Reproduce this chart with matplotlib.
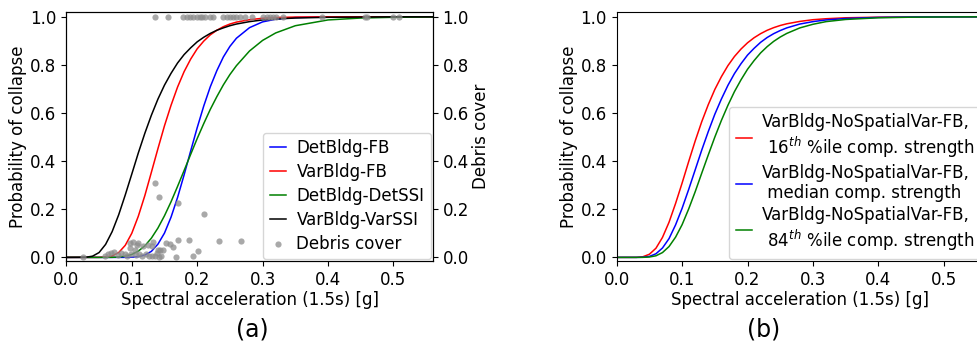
import matplotlib
matplotlib.use('Agg')
from matplotlib import pyplot as plt

# (a) fragility curves
sa_a = [0.0, 0.03, 0.04, 0.05, 0.06, 0.07, 0.08, 0.09, 0.10, 0.11, 0.12, 0.13, 0.14, 0.15, 0.16,
        0.17, 0.18, 0.19, 0.20, 0.21, 0.22, 0.23, 0.24, 0.25, 0.26, 0.28, 0.30, 0.32, 0.35,
        0.40, 0.45, 0.50, 0.56]
det_fb = [0, 0, 0, 0, 0, 0, 0, 0.0001, 0.0007, 0.003, 0.0098, 0.025, 0.055, 0.101, 0.167, 0.249,
          0.343, 0.442, 0.539, 0.629, 0.709, 0.776, 0.833, 0.877, 0.911, 0.955, 0.979, 0.990,
          0.997, 1.0, 1.0, 1.0, 1.0]
var_fb = [0, 0, 0, 0.0001, 0.0012, 0.006, 0.020, 0.050, 0.100, 0.171, 0.257, 0.354, 0.452, 0.547,
          0.632, 0.708, 0.772, 0.824, 0.867, 0.899, 0.925, 0.944, 0.959, 0.970, 0.978, 0.988,
          0.994, 0.997, 0.999, 1.0, 1.0, 1.0, 1.0]
det_ssi = [0, 0, 0, 0, 0, 0.0003, 0.0015, 0.0048, 0.012, 0.026, 0.048, 0.080, 0.122, 0.173, 0.231,
           0.295, 0.361, 0.428, 0.494, 0.556, 0.615, 0.668, 0.717, 0.760, 0.797, 0.858, 0.902,
           0.933, 0.963, 0.987, 0.995, 0.998, 0.9995]
var_ssi = [0, 0.0006, 0.005, 0.020, 0.054, 0.107, 0.177, 0.259, 0.346, 0.434, 0.516, 0.591, 0.658,
           0.716, 0.765, 0.808, 0.843, 0.871, 0.896, 0.915, 0.931, 0.944, 0.954, 0.963, 0.970,
           0.980, 0.987, 0.991, 0.995, 0.998, 0.999, 1.0, 1.0]

# debris cover observations
debris_sa = [0.025, 0.059, 0.063, 0.069, 0.073, 0.079, 0.084, 0.089, 0.092, 0.097, 0.097, 0.099,
             0.102, 0.105, 0.106, 0.1075, 0.110, 0.111, 0.116, 0.1176, 0.121, 0.125, 0.126,
             0.131, 0.131, 0.133, 0.135, 0.136, 0.138, 0.1405, 0.141, 0.142, 0.143, 0.144,
             0.148, 0.152, 0.158, 0.163, 0.168, 0.170, 0.171, 0.188, 0.193, 0.2015, 0.211,
             0.234, 0.267,
             0.135, 0.156, 0.178, 0.184, 0.189, 0.194, 0.199, 0.204, 0.208, 0.212, 0.219,
             0.224, 0.240, 0.245, 0.250, 0.255, 0.260, 0.265, 0.273, 0.284, 0.301, 0.306,
             0.311, 0.316, 0.321, 0.331, 0.391, 0.456, 0.460, 0.499, 0.509]
debris_cover = [0.0, 0.007, 0.015, 0.018, 0.021, 0.011, 0.018, 0.015, 0.007, 0.060, 0.039, 0.015,
                0.066, 0.029, 0.011, 0.053, 0.060, 0.015, 0.007, 0.046, 0.015, 0.053, 0.007,
                0.046, 0.004, 0.066, 0.308, 0.007, 0.018, 0.029, 0.002, 0.249, 0.031, 0.007,
                0.029, 0.060, 0.055, 0.043, 0.002, 0.228, 0.073, 0.073, 0.007, 0.025, 0.182,
                0.070, 0.068,
                1, 1, 1, 1, 1, 1, 1, 1, 1, 1, 1, 1, 1, 1, 1, 1, 1, 1, 1, 1, 1, 1, 1, 1, 1,
                1, 1, 1, 1, 1, 1]

# (b) compressive strength sensitivity
sa_b = [0.0, 0.03, 0.04, 0.05, 0.06, 0.07, 0.08, 0.09, 0.10, 0.11, 0.12, 0.13, 0.14, 0.15,
        0.16, 0.17, 0.18, 0.19, 0.20, 0.21, 0.22, 0.23, 0.24, 0.25, 0.26, 0.28, 0.30, 0.32,
        0.35, 0.40, 0.45, 0.50, 0.56]
p16 = [0, 0.0002, 0.0026, 0.013, 0.038, 0.083, 0.146, 0.224, 0.309, 0.398, 0.484, 0.564, 0.635,
       0.698, 0.751, 0.797, 0.835, 0.866, 0.892, 0.913, 0.930, 0.944, 0.955, 0.964, 0.971,
       0.981, 0.988, 0.992, 0.996, 0.9985, 0.9994, 1.0, 1.0]
p50 = [0, 0, 0.0006, 0.004, 0.015, 0.039, 0.078, 0.135, 0.204, 0.282, 0.364, 0.446, 0.523,
       0.595, 0.658, 0.715, 0.764, 0.805, 0.841, 0.869, 0.894, 0.914, 0.930, 0.943, 0.954,
       0.970, 0.980, 0.987, 0.993, 0.9976, 0.9991, 0.9997, 1.0]
p84 = [0, 0, 0.0002, 0.0015, 0.0066, 0.020, 0.045, 0.084, 0.136, 0.201, 0.273, 0.350, 0.426,
       0.500, 0.569, 0.632, 0.689, 0.738, 0.782, 0.818, 0.850, 0.876, 0.898, 0.916, 0.931,
       0.954, 0.969, 0.980, 0.989, 0.996, 0.9985, 0.9994, 1.0]

fs = 12
plt.rcParams['font.size'] = fs

fig = plt.figure(figsize=(9.77, 3.45), dpi=100)

# ---- (a)
ax = fig.add_axes([0.0679, 0.2435, 0.375, 0.7217])
l1, = ax.plot(sa_a, det_fb, color='b', lw=1.1, label='DetBldg-FB')
l2, = ax.plot(sa_a, var_fb, color='r', lw=1.1, label='VarBldg-FB')
l3, = ax.plot(sa_a, det_ssi, color='g', lw=1.1, label='DetBldg-DetSSI')
l4, = ax.plot(sa_a, var_ssi, color='k', lw=1.1, label='VarBldg-VarSSI')
ax.set_xlim(0, 0.56)
ax.set_ylim(-0.015, 1.02)
ax.set_xlabel('Spectral acceleration (1.5s) [g]', labelpad=2)
ax.set_ylabel('Probability of collapse', labelpad=2)

axr = ax.twinx()
sc = axr.scatter(debris_sa, debris_cover, s=20, color='#8c8c8c', alpha=0.75,
                 linewidths=0, label='Debris cover')
axr.set_ylim(-0.015, 1.02)
axr.set_ylabel('Debris cover', labelpad=2)
axr.legend(handles=[l1, l2, l3, l4, sc], loc='lower right', borderaxespad=0.1,
           handlelength=1.0, handletextpad=0.6, labelspacing=0.35, fontsize=fs)
fig.text(0.258, 0.046, '(a)', ha='center', va='center', fontsize=17)

# ---- (b)
bx = fig.add_axes([0.6312, 0.2435, 0.375, 0.7217])
bx.plot(sa_b, p16, color='r', lw=1.1,
        label='VarBldg-NoSpatialVar-FB,\n 16$^{th}$ %ile comp. strength')
bx.plot(sa_b, p50, color='b', lw=1.1,
        label='VarBldg-NoSpatialVar-FB,\n median comp. strength')
bx.plot(sa_b, p84, color='g', lw=1.1,
        label='VarBldg-NoSpatialVar-FB,\n 84$^{th}$ %ile comp. strength')
bx.set_xlim(0, 0.56)
bx.set_ylim(-0.015, 1.02)
bx.set_xlabel('Spectral acceleration (1.5s) [g]', labelpad=2)
bx.set_ylabel('Probability of collapse', labelpad=2)
bx.legend(loc='lower right', borderaxespad=0.1, handlelength=1.0, handletextpad=0.6,
          labelspacing=0.2, fontsize=fs)
fig.text(0.7815, 0.046, '(b)', ha='center', va='center', fontsize=17)

fig.savefig('out.png', dpi=100)
